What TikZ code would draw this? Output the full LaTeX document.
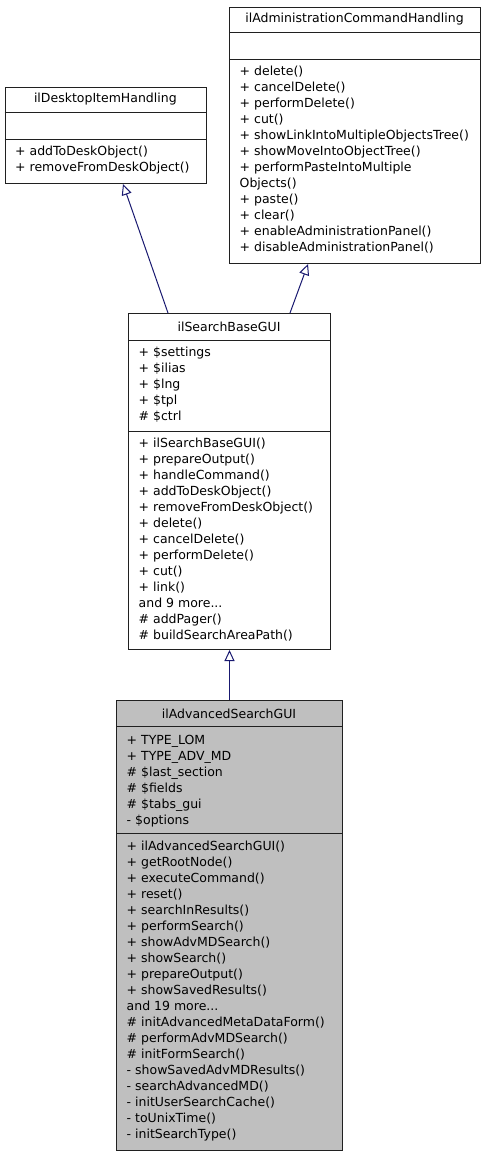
\documentclass[tikz,border=0pt]{standalone}
\usepackage{fontspec}
\setmainfont{DejaVu Sans}
\usetikzlibrary{arrows.meta}
\definecolor{midnight}{HTML}{191970}
\definecolor{clsfill}{HTML}{BFBFBF}
\definecolor{clsline}{HTML}{202020}
\newcommand{\threedots}{...}
\begin{document}
\begin{tikzpicture}[x=1pt,y=-1pt,
  cls/.style={draw=clsline, line width=1pt, anchor=north west, inner sep=0pt},
  sep/.style={draw=clsline, line width=1pt},
  ttl/.style={font=\fontsize{12.5}{14}\selectfont, anchor=center, inner sep=0pt},
  mem/.style={font=\fontsize{12.5}{14}\selectfont, anchor=base west, inner sep=0pt},
  inh/.style={draw=midnight, line width=1pt, -{Triangle[open,length=11pt,width=10pt]}}]
\useasboundingbox (0,0) rectangle (485,1155);

% ilDesktopItemHandling
\node[cls, minimum width=201.3pt, minimum height=96pt] (dh) at (4.7,87) {};
\draw[sep] ([yshift=-26pt]dh.north west) -- ([yshift=-26pt]dh.north east);
\draw[sep] ([yshift=-53pt]dh.north west) -- ([yshift=-53pt]dh.north east);
\node[ttl] (dht) at (105.35,99.5) {ilDesktopItemHandling};
\foreach [count=\i from 0] \t in {{+ addToDeskObject()},{+ removeFromDeskObject()}}
  \node[mem] (dhm\i) at (15, 156+16*\i) {\t};

% ilAdministrationCommandHandling
\node[cls, minimum width=251pt, minimum height=256pt] (ac) at (229,7) {};
\draw[sep] ([yshift=-26pt]ac.north west) -- ([yshift=-26pt]ac.north east);
\draw[sep] ([yshift=-53pt]ac.north west) -- ([yshift=-53pt]ac.north east);
\node[ttl] (act) at (354.5,19.5) {ilAdministrationCommandHandling};
\foreach [count=\i from 0] \t in {{+ delete()},{+ cancelDelete()},{+ performDelete()},{+ cut()},
  {+ showLinkIntoMultipleObjectsTree()},{+ showMoveIntoObjectTree()},{+ performPasteIntoMultiple},
  {Objects()},{+ paste()},{+ clear()},{+ enableAdministrationPanel()},{+ disableAdministrationPanel()}}
  \node[mem] (acm\i) at (239.5, 76+16*\i) {\t};

% ilSearchBaseGUI
\node[cls, minimum width=202pt, minimum height=336pt] (sb) at (128,313) {};
\draw[sep] ([yshift=-27pt]sb.north west) -- ([yshift=-27pt]sb.north east);
\draw[sep] ([yshift=-118pt]sb.north west) -- ([yshift=-118pt]sb.north east);
\node[ttl] (sbt) at (229,326.5) {ilSearchBaseGUI};
\foreach [count=\i from 0] \t in {{+ \$settings},{+ \$ilias},{+ \$lng},{+ \$tpl},{\# \$ctrl}}
  \node[mem] (sba\i) at (138.5, 356+16*\i) {\t};
\foreach [count=\i from 0] \t in {{+ ilSearchBaseGUI()},{+ prepareOutput()},{+ handleCommand()},
  {+ addToDeskObject()},{+ removeFromDeskObject()},{+ delete()},{+ cancelDelete()},
  {+ performDelete()},{+ cut()},{+ link()},{and 9 more\threedots},{\# addPager()},{\# buildSearchAreaPath()}}
  \node[mem] (sbm\i) at (138.5, 447+16*\i) {\t};

% ilAdvancedSearchGUI
\node[cls, fill=clsfill, minimum width=226pt, minimum height=450pt] (as) at (116,700) {};
\draw[sep] ([yshift=-26pt]as.north west) -- ([yshift=-26pt]as.north east);
\draw[sep] ([yshift=-133pt]as.north west) -- ([yshift=-133pt]as.north east);
\node[ttl] (ast) at (229,713.5) {ilAdvancedSearchGUI};
\foreach [count=\i from 0] \t in {{+ TYPE\_LOM},{+ TYPE\_ADV\_MD},{\# \$last\_section},{\# \$fields},
  {\# \$tabs\_gui},{- \$options}}
  \node[mem] (asa\i) at (126.5, 744+16*\i) {\t};
\foreach [count=\i from 0] \t in {{+ ilAdvancedSearchGUI()},{+ getRootNode()},{+ executeCommand()},
  {+ reset()},{+ searchInResults()},{+ performSearch()},{+ showAdvMDSearch()},{+ showSearch()},
  {+ prepareOutput()},{+ showSavedResults()},{and 19 more\threedots},{\# initAdvancedMetaDataForm()},
  {\# performAdvMDSearch()},{\# initFormSearch()},{- showSavedAdvMDResults()},{- searchAdvancedMD()},
  {- initUserSearchCache()},{- toUnixTime()},{- initSearchType()}}
  \node[mem] (asm\i) at (126.5, 850+16*\i) {\t};

% inheritance
\draw[inh] ([xshift=40pt]sb.north west) -- ([xshift=118.3pt]dh.south west);
\draw[inh] ([xshift=162pt]sb.north west) -- ([xshift=79pt]ac.south west);
\draw[inh] (as.north) -- (sb.south);
\end{tikzpicture}
\end{document}
